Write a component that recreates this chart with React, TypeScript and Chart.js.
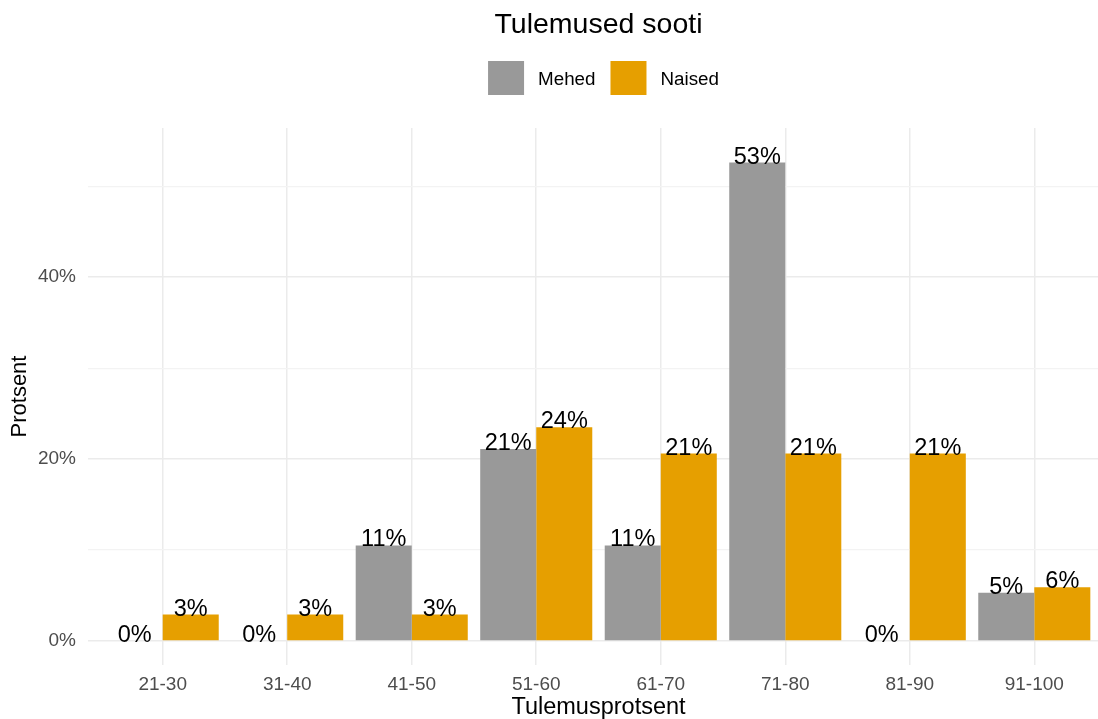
import React, { useEffect, useRef } from "react";
import { Chart, registerables, CategoryScale } from "chart.js";

Chart.register(...registerables);

class PaddedCategory extends CategoryScale {
  static id = "paddedCategory";
  static defaults = CategoryScale.defaults;
  buildTicks() {
    const t = super.buildTicks();
    (this as any)._startValue -= 0.1;
    (this as any)._valueRange += 0.2;
    return t;
  }
}
Chart.register(PaddedCategory as any);

const categories = ["21-30", "31-40", "41-50", "51-60", "61-70", "71-80", "81-90", "91-100"];
const mehed = [0, 0, 10.5, 21.1, 10.5, 52.6, 0, 5.3];
const naised = [2.9, 2.9, 2.9, 23.5, 20.6, 20.6, 20.6, 5.9];
const seriesNames = ["Mehed", "Naised"];
const seriesColors = ["#999999", "#E69F00"];
const yTickValues = [0, 10, 20, 30, 40, 50];
const yTickLabels = ["0%", "", "20%", "", "40%", ""];
const titleText = "Tulemused sooti";
const xTitle = "Tulemusprotsent";
const yTitle = "Protsent";

const FONT = "'Liberation Sans', Arial, sans-serif";

const decorPlugin = {
  id: "decor",
  afterDatasetsDraw(chart: any) {
    const ctx = chart.ctx;
    ctx.save();
    ctx.fillStyle = "#000000";
    ctx.font = `23.5px ${FONT}`;
    ctx.textAlign = "center";
    ctx.textBaseline = "alphabetic";
    chart.data.datasets.forEach((ds: any, di: number) => {
      const meta = chart.getDatasetMeta(di);
      meta.data.forEach((bar: any, i: number) => {
        const v = ds.data[i];
        ctx.fillText(Math.round(v) + "%", bar.x, bar.y + 1);
      });
    });
    ctx.restore();
  },
  afterDraw(chart: any) {
    const ctx = chart.ctx;
    const ca = chart.chartArea;
    const cx = (ca.left + ca.right) / 2;
    ctx.save();
    // title
    ctx.fillStyle = "#000000";
    ctx.font = `28.5px ${FONT}`;
    ctx.textAlign = "center";
    ctx.textBaseline = "alphabetic";
    ctx.fillText(titleText, cx, 33);
    // legend
    ctx.font = `18.8px ${FONT}`;
    const boxW = 36, boxH = 34, gapText = 14, gapItem = 15;
    const widths = seriesNames.map((n) => ctx.measureText(n).width);
    let total = 0;
    widths.forEach((w, i) => {
      total += boxW + gapText + w + (i < widths.length - 1 ? gapItem : 0);
    });
    let x = cx + 5 - total / 2;
    ctx.textAlign = "left";
    seriesNames.forEach((n, i) => {
      ctx.fillStyle = seriesColors[i];
      ctx.fillRect(x, 61, boxW, boxH);
      ctx.fillStyle = "#000000";
      ctx.fillText(n, x + boxW + gapText, 85);
      x += boxW + gapText + widths[i] + gapItem;
    });
    ctx.restore();
  },
};

export default function App() {
  const ref = useRef<HTMLCanvasElement>(null);
  useEffect(() => {
    if (!ref.current) return;
    Chart.defaults.font.family = FONT;
    const chart = new Chart(ref.current, {
      type: "bar",
      data: {
        labels: categories,
        datasets: [
          { label: seriesNames[0], data: mehed, backgroundColor: seriesColors[0], borderWidth: 0 },
          { label: seriesNames[1], data: naised, backgroundColor: seriesColors[1], borderWidth: 0 },
        ],
      },
      options: {
        animation: false,
        responsive: false,
        devicePixelRatio: 1,
        categoryPercentage: 0.9,
        barPercentage: 1.0,
        layout: { padding: { top: 128, right: 11, bottom: 0, left: 0 } },
        plugins: {
          legend: { display: false },
          title: { display: false },
          tooltip: { enabled: false },
        },
        scales: {
          x: {
            type: "paddedCategory" as any,
            offset: true,
            grid: { offset: false, color: "#ebebeb", lineWidth: 1.5, drawTicks: false },
            border: { display: false },
            ticks: { color: "#4d4d4d", font: { size: 19 }, padding: 8 },
            title: {
              display: true,
              text: xTitle,
              color: "#000000",
              font: { size: 23.5, lineHeight: 1 },
              padding: { top: 0, bottom: 0 },
            },
            afterFit(scale: any) {
              scale.height = 54;
            },
          },
          y: {
            min: -2.64,
            max: 56.4,
            afterBuildTicks(scale: any) {
              scale.ticks = yTickValues.map((v) => ({ value: v }));
            },
            grid: {
              color: (c: any) => (c.tick && c.tick.value % 20 === 0 ? "#ebebeb" : "#f3f3f3"),
              lineWidth: (c: any) => (c.tick && c.tick.value % 20 === 0 ? 1.5 : 1.2),
              drawTicks: false,
            },
            border: { display: false },
            ticks: {
              color: "#4d4d4d",
              font: { size: 19 },
              padding: 12,
              callback: (v: any) => {
                const i = yTickValues.indexOf(Number(v));
                return i >= 0 ? yTickLabels[i] : "";
              },
            },
            title: {
              display: true,
              text: yTitle,
              color: "#000000",
              font: { size: 22, lineHeight: 1 },
              padding: { top: 9, bottom: 0 },
            },
            afterFit(scale: any) {
              scale.width = 88;
            },
          },
        },
      },
      plugins: [decorPlugin],
    });
    return () => chart.destroy();
  }, []);
  return (
    <div style={{ position: "fixed", left: 0, top: 0, width: 1098, height: 719, overflow: "hidden", background: "#ffffff" }}>
      <canvas ref={ref} width={1120} height={719} style={{ display: "block", width: 1120, height: 719 }} />
    </div>
  );
}
